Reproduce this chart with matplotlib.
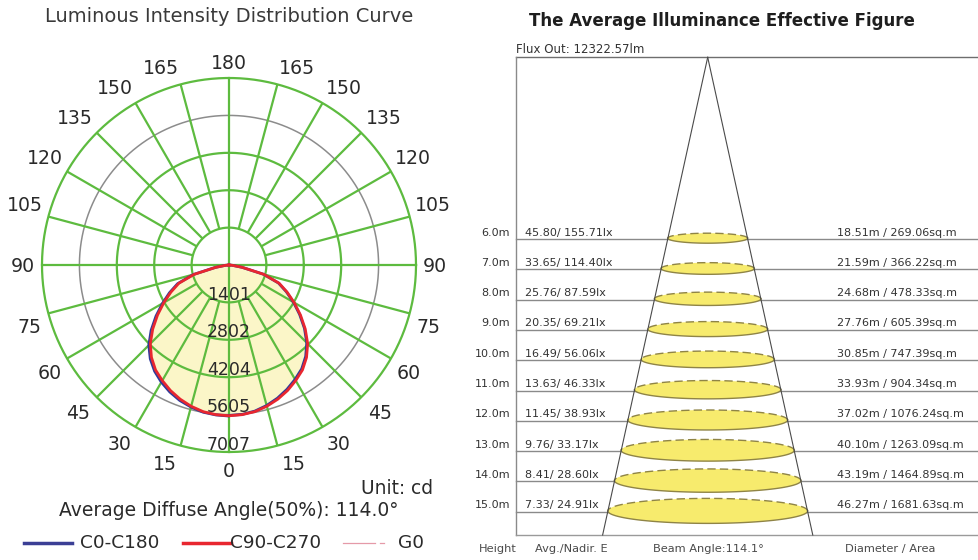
import numpy as np
import matplotlib
matplotlib.use("Agg")
import matplotlib.pyplot as plt
from matplotlib.patches import Ellipse, Polygon
from matplotlib.lines import Line2D

# ---------------- data ----------------
ring_values = [1401, 2802, 4204, 5605, 7007]
angle_labels = [0, 15, 30, 45, 60, 75, 90, 105, 120, 135, 150, 165, 180]
gamma = [0, 5, 10, 15, 20, 25, 30, 35, 40, 45, 50, 55, 60, 65, 70, 75, 80, 85, 90]
c0_half = [5660, 5640, 5600, 5510, 5400, 5250, 5070, 4860, 4590, 4250, 3810, 3340,
           2880, 2460, 2050, 1390, 520, 130, 0]
c180_half = [5640, 5620, 5560, 5450, 5310, 5140, 4950, 4750, 4470, 4120, 3690, 3230,
             2790, 2370, 1970, 1330, 490, 115, 0]
c90_c270 = [5650, 5630, 5580, 5480, 5350, 5190, 5000, 4800, 4520, 4170, 3730, 3270,
            2820, 2400, 2000, 1350, 500, 120, 0]
diffuse_angle = 114.0
legend_names = ["C0-C180", "C90-C270", "G0"]

heights = [6.0, 7.0, 8.0, 9.0, 10.0, 11.0, 12.0, 13.0, 14.0, 15.0]
avg_e = [45.80, 33.65, 25.76, 20.35, 16.49, 13.63, 11.45, 9.76, 8.41, 7.33]
nadir_e = [155.71, 114.40, 87.59, 69.21, 56.06, 46.33, 38.93, 33.17, 28.60, 24.91]
diameters = [18.51, 21.59, 24.68, 27.76, 30.85, 33.93, 37.02, 40.10, 43.19, 46.27]
areas = [269.06, 366.22, 478.33, 605.39, 747.39, 904.34, 1076.24, 1263.09, 1464.89, 1681.63]
flux_out = 12322.57
beam_angle = 114.1

# ---------------- figure ----------------
plt.rcParams["font.family"] = ["DejaVu Sans"]
W, H = 979, 560
fig = plt.figure(figsize=(W / 100, H / 100), dpi=100)


def fx(px):
    return px / W


def fy(py):
    return 1 - py / H


# ======== left: polar intensity curve (drawn in cartesian cd units) ========
cx, cy, R = 229, 265, 187
k = ring_values[-1] / R  # cd per pixel
axl = fig.add_axes([0, 0, 460 / W, 1])
axl.set_xlim(-cx * k, (460 - cx) * k)
axl.set_ylim(-(H - cy) * k, cy * k)
axl.axis("off")

green = "#5dbb3f"
g_rad = np.radians(gamma)
c90 = np.array(c90_c270, float)
# fill under red curve
xs_fill = np.concatenate([-(c90 * np.sin(g_rad))[::-1], c90 * np.sin(g_rad)])
ys_fill = np.concatenate([-(c90 * np.cos(g_rad))[::-1], -(c90 * np.cos(g_rad))])
axl.add_patch(Polygon(np.column_stack([xs_fill, ys_fill]), closed=True,
                      facecolor="#fbf6c8", edgecolor="none", zorder=1))

# rings
t = np.linspace(0, 2 * np.pi, 500)
for i, v in enumerate(ring_values):
    col = "#8c8c8c" if i == 3 else green
    lw = 1.1 if i == 3 else 1.6
    axl.plot(v * np.cos(t), v * np.sin(t), color=col, lw=lw, zorder=2)

# spokes
rmin, rmax = ring_values[0], ring_values[-1]
for g in range(15, 180, 15):
    if g == 90:
        continue
    gr = np.radians(g)
    for s in (-1, 1):
        axl.plot([s * rmin * np.sin(gr), s * rmax * np.sin(gr)],
                 [-rmin * np.cos(gr), -rmax * np.cos(gr)],
                 color=green, lw=1.6, zorder=2, solid_capstyle="butt")
axl.plot([0, 0], [-rmax, rmax], color=green, lw=1.6, zorder=2)
axl.plot([-rmax, rmax], [0, 0], color=green, lw=1.6, zorder=2)

# ring value labels
for v in ring_values:
    axl.text(0, -v + 2.5 * k, f"{v}", ha="center", va="baseline",
             fontsize=12.5, color="#2a2a2a", zorder=5)

# angle labels (radius in px, small angular adjustments)
lab_r = {0: 205, 15: 208.5, 30: 209, 45: 210.5, 60: 209, 75: 208.4, 90: 206,
         105: 213, 120: 213.6, 135: 213.6, 150: 211.8, 165: 209, 180: 203}
lab_da = {0: 0, 15: -3.0, 30: -1.5, 45: -0.8, 60: 0.9, 75: 2.0, 90: 0,
          105: -1.6, 120: -0.4, 135: 1.3, 150: 2.7, 165: 3.9, 180: 0}
for v in angle_labels:
    sides = (-1, 1) if v not in (0, 180) else (1,)
    for s in sides:
        a = np.radians(v - lab_da[v])
        r = lab_r[v] * k
        x = s * r * np.sin(a) if v not in (0, 180) else 0
        y = -r * np.cos(a)
        axl.text(x, y - 1.5 * k, f"{v}", ha="center", va="center",
                 fontsize=13.6, color="#2a2a2a")

# curves
c0 = np.array(c0_half, float)
c180 = np.array(c180_half, float)
xb = np.concatenate([-(c0 * np.sin(g_rad))[::-1], c180 * np.sin(g_rad)])
yb = np.concatenate([-(c0 * np.cos(g_rad))[::-1], -(c180 * np.cos(g_rad))])
axl.plot(xb, yb, color="#2e3a9a", lw=2.0, zorder=6)
axl.plot(xs_fill, ys_fill, color="#e8262f", lw=2.0, zorder=7)

# titles and legend for left panel
fig.text(fx(229), fy(17), "Luminous Intensity Distribution Curve", ha="center",
         va="center", fontsize=14, color="#3a3a3a")
fig.text(fx(433), fy(488), "Unit: cd", ha="right", va="center",
         fontsize=13.4, color="#2a2a2a")
fig.text(fx(229), fy(511), f"Average Diffuse Angle(50%): {diffuse_angle:.1f}°",
         ha="center", va="center", fontsize=13.5, color="#2a2a2a")

ly = fy(543)
fig.add_artist(Line2D([fx(24), fx(72)], [ly, ly], color="#3b3f95", lw=2.5))
fig.text(fx(80), ly, legend_names[0], ha="left", va="center", fontsize=13.3,
         color="#2a2a2a")
fig.add_artist(Line2D([fx(183), fx(231)], [ly, ly], color="#e8262f", lw=2.5))
fig.text(fx(230), ly, legend_names[1], ha="left", va="center", fontsize=13.3,
         color="#2a2a2a")
fig.add_artist(Line2D([fx(343), fx(375)], [ly, ly], color="#e59aa8", lw=0.9))
fig.add_artist(Line2D([fx(380), fx(384)], [ly, ly], color="#e59aa8", lw=0.9))
fig.text(fx(398), ly, legend_names[2], ha="left", va="center", fontsize=13.3,
         color="#2a2a2a")

# ======== right: average illuminance figure ========
apx, apy = 707.7, 57.3      # cone apex in px
sx, sy = 4.32, 30.3         # px per metre (horizontal / vertical)
axr = fig.add_axes([470 / W, 0, (W - 470) / W, 1])
x_lo, x_hi = (470 - apx) / sx, (W - apx) / sx
axr.set_xlim(x_lo, x_hi)
axr.set_ylim((H - apy) / sy, (0 - apy) / sy)
axr.axis("off")

box_l = (515.7 - apx) / sx
box_b = (535 - apy) / sy
axr.plot([box_l, x_hi], [0, 0], color="#6e6e6e", lw=1.0)
axr.plot([box_l, box_l], [0, box_b], color="#8a8a8a", lw=1.0)
axr.plot([box_l, x_hi], [box_b, box_b], color="#9a9a9a", lw=1.0)

half = np.tan(np.radians(beam_angle / 2))
for s in (-1, 1):
    axr.plot([0, s * half * box_b], [0, box_b], color="#4a4a4a", lw=0.8, zorder=4)

fs_row = 8.0
tt = np.linspace(0, np.pi, 100)
for h, a, n, d, ar in zip(heights, avg_e, nadir_e, diameters, areas):
    axr.plot([box_l, x_hi], [h, h], color="#8a8a8a", lw=1.0, zorder=1)
    eh = 0.125 * d * sx / sy
    axr.add_patch(Ellipse((0, h - 0.03), width=d, height=eh, facecolor="#f7eb6d",
                          edgecolor="none", zorder=2))
    axr.plot(d / 2 * np.cos(tt), h - 0.03 - eh / 2 * np.sin(tt), color="#8f8446",
             lw=1.0, ls=(0, (6, 3)), zorder=3)
    axr.plot(d / 2 * np.cos(tt), h - 0.03 + eh / 2 * np.sin(tt), color="#8f8446",
             lw=1.0, zorder=3)
    axr.text((510 - apx) / sx, h - 0.05, f"{h:.1f}m", ha="right", va="bottom",
             fontsize=fs_row, color="#333333")
    axr.text((525 - apx) / sx, h - 0.05, f"{a:.2f}/ {n:.2f}lx", ha="left",
             va="bottom", fontsize=fs_row, color="#333333")
    axr.text((836.7 - apx) / sx, h - 0.05, f"{d:.2f}m / {ar:.2f}sq.m", ha="left",
             va="bottom", fontsize=fs_row, color="#333333")

axr.text(box_l, -0.05, f"Flux Out: {flux_out:.2f}lm", ha="left", va="bottom",
         fontsize=8.5, color="#333333")

fig.text(fx(722), fy(21), "The Average Illuminance Effective Figure", ha="center",
         va="center", fontsize=12, fontweight="bold", color="#1e1e1e")
fy_foot = fy(549)
for px, label in [(498, "Height"), (571, "Avg./Nadir. E"),
                  (708, f"Beam Angle:{beam_angle:.1f}°"), (890, "Diameter / Area")]:
    fig.text(fx(px), fy_foot, label, ha="center", va="center", fontsize=8.2,
             color="#4a4a4a")

fig.savefig("out.png", dpi=100, facecolor="white")
